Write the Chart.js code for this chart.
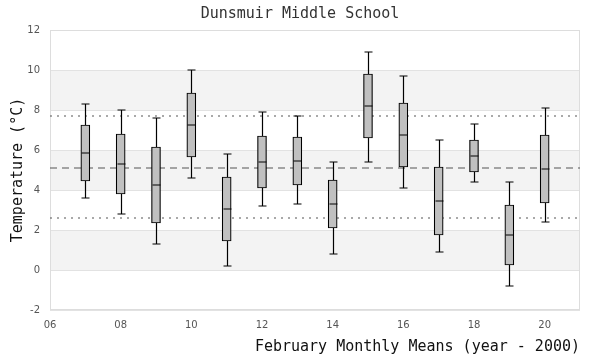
<!DOCTYPE html>
<html>
<head>
<meta charset="utf-8">
<script src="https://cdn.jsdelivr.net/npm/chart.js"></script>
<style>
html, body { margin: 0; padding: 0; background: #fff; }
</style>
</head>
<body>
<canvas id="boxChart" width="600" height="360"></canvas>
<script>
// February monthly means, one box per year (year - 2000)
var years = [7, 8, 9, 10, 11, 12, 13, 14, 15, 16, 17, 18, 19, 20];
var whiskerLow = [3.6, 2.8, 1.3, 4.6, 0.2, 3.2, 3.3, 0.8, 5.4, 4.1, 0.9, 4.4, -0.8, 2.4];
var quartile1 = [4.45, 3.8, 2.35, 5.65, 1.45, 4.1, 4.25, 2.1, 6.6, 5.15, 1.75, 4.9, 0.25, 3.35];
var medians = [5.85, 5.3, 4.25, 7.25, 3.05, 5.4, 5.45, 3.3, 8.2, 6.75, 3.45, 5.7, 1.75, 5.05];
var quartile3 = [7.25, 6.8, 6.15, 8.85, 4.65, 6.7, 6.65, 4.5, 9.8, 8.35, 5.15, 6.5, 3.25, 6.75];
var whiskerHigh = [8.3, 8.0, 7.6, 10.0, 5.8, 7.9, 7.7, 5.4, 10.9, 9.7, 6.5, 7.3, 4.4, 8.1];

// overall mean and the two dotted limits
var meanValue = 5.1;
var upperValue = 7.7;
var lowerValue = 2.6;

var xTicks = [6, 8, 10, 12, 14, 16, 18, 20];
var xTickLabels = ['06', '08', '10', '12', '14', '16', '18', '20'];
var yTicks = [-2, 0, 2, 4, 6, 8, 10, 12];
var shadedBands = [[0, 2], [4, 6], [8, 10]];

var monoFont = "'DejaVu Sans Mono', monospace";
var capHalf = 4;

var boxData = years.map(function(yr, i) {
    return {x: yr, y: [quartile1[i], quartile3[i]]};
});

var refLine = function(v) {
    return [{x: 6, y: v}, {x: 21, y: v}];
};

var backdropPlugin = {
    id: 'backdrop',
    beforeDraw: function(chart) {
        var ctx = chart.ctx;
        var area = chart.chartArea;
        var yScale = chart.scales.y;
        ctx.save();
        ctx.fillStyle = '#f3f3f3';
        shadedBands.forEach(function(b) {
            var top = yScale.getPixelForValue(b[1]);
            var bottom = yScale.getPixelForValue(b[0]);
            ctx.fillRect(area.left, top, area.right - area.left, bottom - top);
        });
        ctx.restore();
    },
    beforeDatasetsDraw: function(chart) {
        var ctx = chart.ctx;
        var area = chart.chartArea;
        ctx.save();
        ctx.strokeStyle = '#dddddd';
        ctx.lineWidth = 1;
        ctx.strokeRect(area.left + 0.5, area.top + 0.5, area.right - area.left - 1, area.bottom - area.top - 1);
        ctx.restore();
    }
};

var whiskerPlugin = {
    id: 'whiskers',
    afterDatasetsDraw: function(chart) {
        var ctx = chart.ctx;
        var xs = chart.scales.x;
        var ys = chart.scales.y;
        ctx.save();
        ctx.strokeStyle = '#000';
        ctx.lineWidth = 1.2;
        years.forEach(function(yr, i) {
            var px = Math.round(xs.getPixelForValue(yr)) + 0.5;
            var lo = ys.getPixelForValue(whiskerLow[i]);
            var b1 = ys.getPixelForValue(quartile1[i]);
            var b3 = ys.getPixelForValue(quartile3[i]);
            var hi = ys.getPixelForValue(whiskerHigh[i]);
            var md = ys.getPixelForValue(medians[i]);
            ctx.beginPath();
            ctx.moveTo(px, lo); ctx.lineTo(px, b1);
            ctx.moveTo(px, b3); ctx.lineTo(px, hi);
            ctx.moveTo(px - capHalf, lo); ctx.lineTo(px + capHalf, lo);
            ctx.moveTo(px - capHalf, hi); ctx.lineTo(px + capHalf, hi);
            ctx.moveTo(px - capHalf, md); ctx.lineTo(px + capHalf, md);
            ctx.stroke();
        });
        ctx.restore();
    }
};

new Chart(document.getElementById('boxChart'), {
    type: 'bar',
    data: {
        datasets: [{
            type: 'bar',
            data: boxData,
            backgroundColor: '#c0c0c0',
            borderColor: '#000',
            borderWidth: 1.2,
            borderSkipped: false,
            barThickness: 9,
            order: 1
        }, {
            type: 'line',
            data: refLine(meanValue),
            borderColor: '#555',
            borderWidth: 1.2,
            borderDash: [7, 5],
            pointRadius: 0,
            order: 2
        }, {
            type: 'line',
            data: refLine(upperValue),
            borderColor: '#555',
            borderWidth: 1.2,
            borderDash: [2, 5],
            pointRadius: 0,
            order: 2
        }, {
            type: 'line',
            data: refLine(lowerValue),
            borderColor: '#555',
            borderWidth: 1.2,
            borderDash: [2, 5],
            pointRadius: 0,
            order: 2
        }]
    },
    options: {
        responsive: false,
        animation: false,
        layout: {padding: 0},
        plugins: {
            legend: {display: false},
            tooltip: {enabled: false},
            title: {
                display: true,
                text: 'Dunsmuir Middle School',
                color: '#333',
                font: {family: monoFont, size: 15, weight: 'normal', lineHeight: 1.2},
                padding: {top: 5, bottom: 7}
            }
        },
        scales: {
            x: {
                type: 'linear',
                min: 6,
                max: 21,
                offset: false,
                afterBuildTicks: function(scale) {
                    scale.ticks = xTicks.map(function(v) { return {value: v}; });
                },
                afterFit: function(scale) { scale.height = 50; },
                grid: {display: false, drawTicks: false},
                border: {display: false},
                ticks: {
                    padding: 9,
                    color: '#555',
                    font: {family: "'DejaVu Sans', sans-serif", size: 10},
                    callback: function(v, idx) { return xTickLabels[idx]; }
                },
                title: {
                    display: true,
                    text: 'February Monthly Means (year - 2000)',
                    align: 'end',
                    color: '#111',
                    font: {family: monoFont, size: 15, weight: 'normal', lineHeight: 1.2},
                    padding: {top: 4, bottom: 4}
                }
            },
            y: {
                min: -2,
                max: 12,
                afterBuildTicks: function(scale) {
                    scale.ticks = yTicks.map(function(v) { return {value: v}; });
                },
                afterFit: function(scale) { scale.width = 50; },
                grid: {color: '#e2e2e2', drawTicks: false},
                border: {display: false},
                ticks: {
                    padding: 10,
                    color: '#555',
                    font: {family: "'DejaVu Sans', sans-serif", size: 10}
                },
                title: {
                    display: true,
                    text: 'Temperature (°C)',
                    color: '#111',
                    font: {family: monoFont, size: 15, weight: 'normal', lineHeight: 1.2},
                    padding: {top: 9, bottom: 4}
                }
            },
            // empty right-hand strip so the plot ends 20px from the edge
            yPad: {
                position: 'right',
                min: -2,
                max: 12,
                afterFit: function(scale) { scale.width = 20; },
                grid: {display: false, drawTicks: false},
                border: {display: false},
                ticks: {display: false}
            }
        }
    },
    plugins: [backdropPlugin, whiskerPlugin]
});
</script>
</body>
</html>
